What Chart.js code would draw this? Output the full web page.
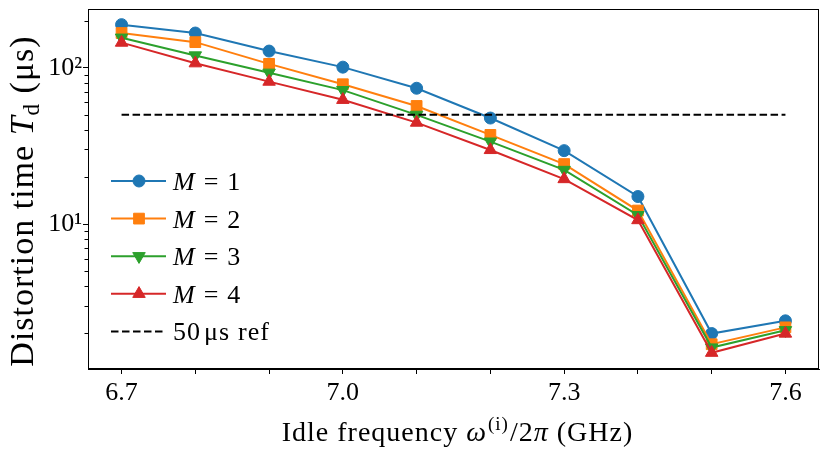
<!DOCTYPE html>
<html>
<head>
<meta charset="utf-8">
<script src="https://cdn.jsdelivr.net/npm/chart.js@4/dist/chart.umd.min.js"></script>
<style>
  html, body { margin: 0; padding: 0; background: #fff; }
  #wrap { width: 833px; height: 449px; position: relative; }
</style>
</head>
<body>
<div id="wrap"><canvas id="c" width="833" height="449"></canvas></div>
<script>
// ---- data ----
const freqs = [6.7, 6.8, 6.9, 7.0, 7.1, 7.2, 7.3, 7.4, 7.5, 7.6];
const tdM1 = [189, 167, 128, 101, 74, 47.7, 29.5, 15.0, 1.99, 2.40];
const tdM2 = [167, 146, 106, 78.5, 57, 37.2, 24.2, 12.2, 1.70, 2.18];
const tdM3 = [156, 120, 93, 72, 50, 33.7, 22.2, 11.4, 1.62, 2.09];
const tdM4 = [145, 107, 81.6, 62.4, 44.6, 29.8, 19.4, 10.6, 1.50, 1.99];
const refLevel = 50;
const refRange = [6.7, 7.6];
const seriesNames = ['1', '2', '3', '4'];
const refName = '50 \u03bcs ref';
const xTickLabels = ['6.7', '', '', '7.0', '', '', '7.3', '', '', '7.6'];
const yMajorTicks = [10, 100];
const yTickLabels = ['10\u00b9', '10\u00b2'];
const yMinorTicks = [2, 3, 4, 5, 6, 7, 8, 9, 20, 30, 40, 50, 60, 70, 80, 90, 200];

const FONT = '"Liberation Serif", "Times New Roman", serif';
const colors = ['#1f77b4', '#ff7f0e', '#2ca02c', '#d62728'];
const styles = [
  { pointStyle: 'circle', rotation: 0, radius: 6 },
  { pointStyle: 'rect', rotation: 0, radius: 7.6 },
  { pointStyle: 'triangle', rotation: 180, radius: 7.2 },
  { pointStyle: 'triangle', rotation: 0, radius: 7.2 }
];
const seriesData = [tdM1, tdM2, tdM3, tdM4];

const datasets = seriesData.map((vals, i) => ({
  label: 'M = ' + seriesNames[i],
  data: freqs.map((f, j) => ({ x: f, y: vals[j] })),
  borderColor: colors[i],
  backgroundColor: colors[i],
  pointBackgroundColor: colors[i],
  pointBorderColor: colors[i],
  pointBorderWidth: 1,
  borderWidth: 2,
  pointStyle: styles[i].pointStyle,
  pointRotation: styles[i].rotation,
  pointRadius: styles[i].radius,
  pointHoverRadius: styles[i].radius,
  order: 10 - i,
  tension: 0
}));
datasets.push({
  label: refName,
  data: refRange.map(f => ({ x: f, y: refLevel })),
  borderColor: '#000',
  borderWidth: 2,
  borderDash: [7.5, 3.5],
  pointRadius: 0,
  order: 0
});

function drawRich(ctx, segs, x, y, align, spacing) {
  ctx.letterSpacing = (spacing || 0) + 'px';
  let total = 0;
  segs.forEach(s => {
    ctx.font = s.font;
    s.w = s.text ? ctx.measureText(s.text).width : 0;
    total += s.w + (s.gap || 0);
  });
  let cx = align === 'center' ? x - total / 2 : x;
  ctx.textAlign = 'left';
  ctx.textBaseline = 'alphabetic';
  segs.forEach(s => {
    cx += (s.gap || 0);
    if (s.text) {
      ctx.font = s.font;
      ctx.fillText(s.text, cx, y + (s.dy || 0));
      cx += s.w;
    }
  });
  ctx.letterSpacing = '0px';
}

function drawMarker(ctx, style, r, x, y, color) {
  ctx.save();
  ctx.fillStyle = color;
  ctx.strokeStyle = color;
  ctx.lineWidth = 1;
  ctx.beginPath();
  if (style.pointStyle === 'circle') {
    ctx.arc(x, y, r, 0, Math.PI * 2);
  } else if (style.pointStyle === 'rect') {
    const s = Math.SQRT1_2 * r;
    ctx.rect(x - s, y - s, 2 * s, 2 * s);
  } else {
    let rad = style.rotation * Math.PI / 180;
    for (let k = 0; k < 3; k++) {
      const px = x + Math.sin(rad) * r, py = y - Math.cos(rad) * r;
      if (k === 0) ctx.moveTo(px, py); else ctx.lineTo(px, py);
      rad += 2 * Math.PI / 3;
    }
    ctx.closePath();
  }
  ctx.fill();
  ctx.stroke();
  ctx.restore();
}

const decorPlugin = {
  id: 'decor',
  afterDraw(chart) {
    const ctx = chart.ctx;
    const a = chart.chartArea;
    const ys = chart.scales.y;
    ctx.save();
    // frame (all four spines)
    ctx.strokeStyle = '#000';
    ctx.lineWidth = 1;
    ctx.strokeRect(Math.round(a.left) + 0.5, Math.round(a.top) + 0.5,
                   Math.round(a.right - a.left) - 1, Math.round(a.bottom - a.top) - 1);
    // minor y ticks
    ctx.beginPath();
    yMinorTicks.forEach(v => {
      const py = Math.round(ys.getPixelForValue(v)) + 0.5;
      if (py < a.top || py > a.bottom) return;
      ctx.moveTo(a.left, py);
      ctx.lineTo(a.left - 3.5, py);
    });
    ctx.stroke();

    ctx.fillStyle = '#000';
    // x title
    const tf = '28px ' + FONT, tfi = 'italic 28px ' + FONT, sf = '19px ' + FONT;
    drawRich(ctx, [
      { text: 'Idle frequency ', font: tf },
      { text: '\u03c9', font: tfi },
      { text: '(i)', font: sf, dy: -11, gap: 1 },
      { text: '/2', font: tf, gap: 1 },
      { text: '\u03c0', font: tfi },
      { text: ' (GHz)', font: tf }
    ], (a.left + a.right) / 2 + 4, 441, 'center', 1);
    // y title
    const yf = '34px ' + FONT, yfi = 'italic 34px ' + FONT, ysf = '23px ' + FONT;
    ctx.save();
    ctx.translate(33, 201);
    ctx.rotate(-Math.PI / 2);
    drawRich(ctx, [
      { text: 'Distortion time ', font: yf },
      { text: 'T', font: yfi },
      { text: 'd', font: ysf, dy: 6, gap: 0 },
      { text: ' (\u03bcs)', font: yf }
    ], 0, 0, 'center', 1);
    ctx.restore();

    // legend
    const lf = '26px ' + FONT, lfi = 'italic 26px ' + FONT;
    const x0 = a.left + 23, x1 = a.left + 78, xm = a.left + 51, xt = a.left + 85;
    const rowY = k => a.top + 172 + k * 37.6;
    chart.data.datasets.forEach((ds, k) => {
      const yy = rowY(k);
      ctx.save();
      ctx.strokeStyle = ds.borderColor;
      ctx.lineWidth = 2;
      if (ds.borderDash) ctx.setLineDash(ds.borderDash);
      ctx.beginPath();
      ctx.moveTo(x0, yy);
      ctx.lineTo(x1, yy);
      ctx.stroke();
      ctx.restore();
      if (k < 4) {
        drawMarker(ctx, styles[k], styles[k].radius, xm, yy, colors[k]);
        drawRich(ctx, [
          { text: 'M', font: lfi },
          { text: '=', font: lf, gap: 8 },
          { text: seriesNames[k], font: lf, gap: 8 }
        ], xt, yy + 9, 'left', 1);
      } else {
        drawRich(ctx, [
          { text: '50', font: lf },
          { text: '\u03bcs', font: lf, gap: 3 },
          { text: 'ref', font: lf, gap: 8 }
        ], xt, yy + 9, 'left', 1);
      }
    });
    ctx.restore();
  }
};

new Chart(document.getElementById('c'), {
  type: 'line',
  data: { datasets },
  options: {
    responsive: false,
    animation: false,
    events: [],
    layout: { padding: { top: 9, right: 14, left: 0, bottom: 0 } },
    plugins: { legend: { display: false }, tooltip: { enabled: false } },
    scales: {
      x: {
        type: 'linear',
        min: 6.6545,
        max: 7.6455,
        afterBuildTicks: s => { s.ticks = freqs.map(v => ({ value: v })); },
        afterFit: s => { s.height = 80; s.paddingLeft = 0; s.paddingRight = 0; },
        ticks: {
          autoSkip: false,
          maxRotation: 0,
          padding: 4,
          color: '#000',
          font: { family: FONT, size: 26 },
          callback: (v, i) => xTickLabels[i]
        },
        grid: { drawOnChartArea: false, drawTicks: true, tickLength: 5, tickColor: '#000', tickWidth: 1 },
        border: { display: true, color: '#000', width: 1 },
        title: { display: false }
      },
      y: {
        type: 'logarithmic',
        min: 1.18,
        max: 238,
        afterBuildTicks: s => { s.ticks = yMajorTicks.map(v => ({ value: v })); },
        afterFit: s => { s.width = 88; s.paddingTop = 0; s.paddingBottom = 0; },
        ticks: {
          autoSkip: false,
          padding: 1,
          color: '#000',
          font: { family: FONT, size: 26 },
          callback: (v, i) => yTickLabels[i]
        },
        grid: { drawOnChartArea: false, drawTicks: true, tickLength: 5, tickColor: '#000', tickWidth: 1 },
        border: { display: true, color: '#000', width: 1 },
        title: { display: false }
      }
    }
  },
  plugins: [decorPlugin]
});
</script>
</body>
</html>
